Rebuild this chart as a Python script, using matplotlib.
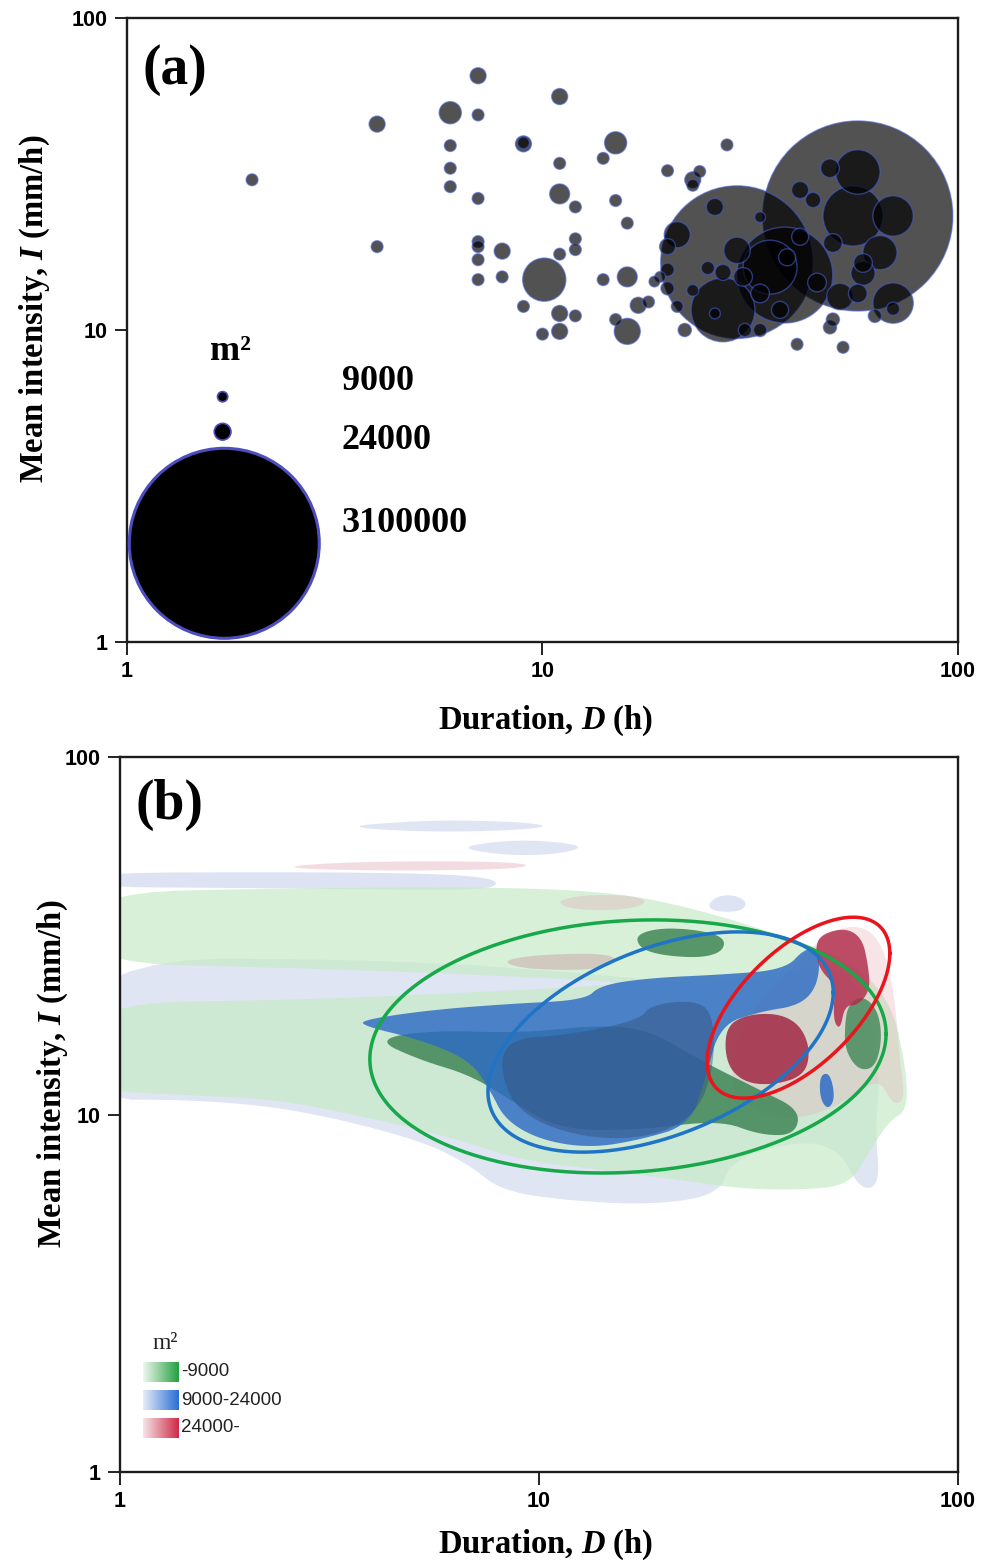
import numpy as np
import matplotlib
matplotlib.use("Agg")
import matplotlib.pyplot as plt
from matplotlib.ticker import NullLocator
from matplotlib.colors import LinearSegmentedColormap

plt.rcParams["mathtext.fontset"] = "custom"
plt.rcParams["mathtext.rm"] = "Liberation Serif:bold"
plt.rcParams["mathtext.it"] = "Liberation Serif:italic:bold"
plt.rcParams["mathtext.bf"] = "Liberation Serif:bold"

# ---------------- (a) rainfall events: duration, mean intensity, area ----------------
duration_h = [2.0, 4.0, 4.0, 6.0, 7.0, 7.0, 6.0, 6.0, 6.0, 7.0,
              7.0, 7.0, 7.0, 7.0, 8.0, 8.0, 9.0, 9.0, 11.0, 11.0,
              11.0, 12.0, 14.0, 15.0, 15.0, 16.0, 12.0, 12.0, 11.0, 10.1,
              9.0, 11.0, 12.0, 10.0, 11.0, 14.0, 16.0, 15.0, 16.0, 17.0,
              18.0, 27.8, 20.0, 23.9, 23.0, 23.0, 41.0, 52.9, 57.4, 29.4,
              38.3, 27.2, 55.9, 57.4, 69.8, 49.2, 41.7, 44.8, 64.9, 59.1,
              69.8, 69.8, 63.1, 57.4, 52.0, 49.2, 50.0, 26.0, 21.1, 20.0,
              20.0, 20.0, 21.1, 22.0, 23.0, 25.0, 26.0, 27.2, 29.4, 33.4,
              35.3, 30.4, 33.4, 38.8, 37.3, 41.7, 50.0, 59.1, 45.8, 19.2,
              18.6, 30.7, 33.4]
intensity_mmh = [30.3, 45.7, 18.5, 49.7, 65.3, 48.9, 39.0, 33.0, 28.8, 26.4,
                 19.2, 18.5, 16.8, 14.5, 17.9, 14.8, 39.5, 39.8, 56.0, 34.2,
                 27.3, 24.8, 35.5, 39.8, 26.0, 22.0, 19.6, 18.1, 17.5, 14.5,
                 11.9, 11.3, 11.1, 9.7, 9.9, 14.5, 14.8, 10.8, 9.9, 12.0,
                 12.3, 39.2, 32.4, 32.2, 30.3, 29.1, 9.0, 8.8, 23.2, 16.5,
                 15.0, 11.6, 23.2, 32.1, 23.2, 33.0, 28.1, 26.1, 17.7, 15.2,
                 12.2, 11.7, 11.1, 13.1, 12.8, 10.2, 10.8, 24.8, 20.2, 18.5,
                 15.6, 13.6, 11.9, 10.0, 13.4, 15.8, 11.3, 15.3, 18.0, 23.0,
                 15.9, 14.8, 13.1, 17.1, 11.6, 19.9, 19.0, 16.4, 14.2, 14.8,
                 14.3, 10.0, 10.0]
area_m2 = [12000, 22000, 12000, 42000, 22000, 12000, 12000, 12000, 12000, 12000,
           12000, 12000, 12000, 12000, 22000, 12000, 22000, 12000, 22000, 12000,
           34000, 12000, 12000, 42000, 12000, 12000, 12000, 12000, 12000, 160000,
           12000, 22000, 12000, 12000, 22000, 12000, 34000, 12000, 58000, 22000,
           12000, 12000, 12000, 12000, 22000, 12000, 12000, 12000, 3100000, 2000000,
           790000, 350000, 310000, 170000, 140000, 30000, 25000, 20000, 100000, 50000,
           140000, 15000, 15000, 30000, 60000, 15000, 15000, 25000, 58000, 22000,
           15000, 15000, 12000, 15000, 12000, 15000, 10000, 22000, 60000, 10000,
           250000, 30000, 30000, 25000, 25000, 25000, 30000, 30000, 30000, 10000,
           10000, 15000, 15000]

size_legend_m2 = [9000, 24000, 3100000]
size_legend_labels = ["9000", "24000", "3100000"]

# ---------------- (b) density regions per area class (D in h, I in mm/h) ----------------
small_low_D = [0.8, 2.69, 8.07, 15.6, 24.2, 37.6, 55.2, 68.8, 74.7, 76.0, 68.8, 61.7, 55.2,
               42.0, 30.2, 21.7, 14.0, 9.0, 6.48, 4.17, 2.41, 1.55, 0.8,
               0.8, 2.69, 7.23, 14.8, 15.6, 7.23, 2.69, 0.8]
small_low_I = [41.7, 43.0, 43.3, 41.7, 37.3, 31.8, 27.1, 20.9, 14.2, 10.3, 9.65, 7.96, 6.35,
               6.15, 6.2, 6.56, 7.0, 7.46, 8.49, 9.65, 11.0, 11.3, 11.7,
               20.5, 20.9, 22.0, 23.0, 23.5, 24.6, 25.7, 26.5]

mid_low_D = [0.8, 4.66, 14.0, 24.2, 39.7, 49.5, 61.7, 65.2, 63.4, 65.2, 58.3, 52.3, 42.0,
             28.6, 27.0, 18.4, 11.2, 8.07, 6.84, 5.2, 2.69, 1.55, 0.8]
mid_low_I = [27.4, 27.1, 24.6, 23.0, 24.6, 27.1, 20.9, 12.5, 9.05, 6.35, 6.15, 7.96, 8.49,
             7.46, 5.96, 5.58, 5.77, 6.15, 7.22, 8.49, 10.3, 11.0, 11.0]
mid_band_D = [0.8, 2.69, 6.13, 8.07, 7.64, 4.66, 2.04, 0.8]
mid_band_I = [47.4, 47.7, 47.1, 45.3, 42.5, 42.5, 43.0, 43.3]
mid_top1_D = [3.54, 4.66, 6.13, 9.01, 10.62, 9.01, 6.13, 4.17]
mid_top1_I = [64.1, 65.8, 66.6, 65.8, 64.1, 62.5, 61.7, 62.5]
mid_top2_D = [6.48, 7.64, 9.52, 12.19, 12.53, 10.62, 8.07]
mid_top2_I = [55.7, 57.8, 58.6, 57.1, 55.3, 53.2, 53.2]
mid_dot_D = [25.2, 26.7, 29.4, 31.5, 30.2, 26.3]
mid_dot_I = [38.5, 40.9, 41.1, 39.1, 36.9, 36.9]

large_low_D = [33.7, 42.0, 49.5, 60.0, 67.0, 70.7, 72.7, 74.7, 70.0, 65.2, 58.3, 49.5,
               39.7, 31.9, 28.6, 29.4]
large_low_I = [20.9, 27.1, 32.8, 33.9, 28.8, 20.9, 14.2, 11.0, 10.6, 12.5, 11.7, 10.3,
               9.65, 10.3, 11.7, 16.2]
large_band_D = [2.55, 3.54, 6.13, 9.52, 9.01, 4.66, 2.69]
large_band_I = [49.6, 50.8, 51.2, 50.5, 48.6, 48.0, 48.6]
large_top_D = [10.9, 12.53, 16.49, 18.41, 16.05, 12.19]
large_top_I = [39.3, 41.1, 41.1, 39.3, 37.3, 37.3]
large_mid_D = [8.07, 9.52, 13.98, 15.61, 13.98, 9.52]
large_mid_I = [26.7, 27.9, 28.3, 27.1, 25.4, 25.4]

small_core_D = [4.06, 5.49, 9.01, 14.0, 18.4, 24.2, 33.7, 42.0, 40.8, 33.7, 27.0, 17.4,
                11.2, 8.53, 6.84, 5.2]
small_core_I = [16.2, 17.2, 16.9, 17.8, 17.2, 14.2, 11.7, 10.3, 8.76, 8.76, 9.65, 9.05,
                9.05, 11.0, 12.9, 14.2]
small_top_D = [17.0, 19.5, 24.2, 27.8, 27.4, 24.2, 19.5, 17.4]
small_top_I = [31.8, 33.3, 32.8, 31.2, 28.5, 27.4, 27.9, 29.2]
small_right_D = [54.6, 59.0, 64.4, 65.9, 63.4, 57.7, 53.7, 53.7]
small_right_I = [20.2, 21.6, 19.6, 16.2, 13.5, 13.3, 15.2, 17.8]

mid_core_D = [3.80, 5.49, 8.53, 12.88, 14.0, 18.4, 27.0, 38.65, 43.1, 46.8, 46.3, 42.0,
              33.7, 27.0, 24.9, 22.9, 17.4, 13.2, 10.06, 8.3, 7.64, 6.84, 5.2, 3.80]
mid_core_I = [18.4, 19.6, 20.4, 20.9, 23.0, 24.1, 24.6, 25.4, 29.2, 28.8, 23.0, 20.2,
              19.4, 17.8, 12.5, 9.35, 8.49, 8.06, 8.49, 9.65, 11.7, 14.2, 16.2, 17.7]
mid_peak_D = [8.07, 11.86, 17.4, 18.4, 22.9, 25.9, 26.3, 24.2, 19.45, 14.0, 10.06, 8.3]
mid_peak_I = [16.2, 16.7, 18.4, 20.2, 20.9, 19.6, 14.2, 10.3, 8.76, 8.49, 9.35, 11.3]
mid_sliver_D = [46.8, 49.5, 50.9, 48.9, 46.8]
mid_sliver_I = [12.9, 13.07, 11.1, 10.3, 11.1]

large_core1_D = [46.8, 53.7, 59.0, 61.0, 61.7, 57.7, 53.7, 52.3, 50.3, 50.9, 46.8, 45.6]
large_core1_I = [31.8, 33.3, 31.2, 26.2, 22.3, 20.2, 20.2, 17.2, 18.4, 23.0, 25.4, 28.8]
large_core2_D = [27.8, 31.0, 37.2, 42.0, 44.4, 43.1, 36.6, 31.0, 27.95]
large_core2_I = [17.46, 19.0, 19.2, 17.8, 15.2, 12.9, 12.1, 12.25, 13.8]

# Spread ellipses in log space: centre D, centre I, sd(log D), sd(log I), correlation
ellipse_small = (16.3, 15.5, 0.616, 0.354, 0.10)
ellipse_mid = (19.5, 15.95, 0.412, 0.308, 0.45)
ellipse_large = (41.6, 19.9, 0.218, 0.253, 0.60)

class_labels = ["-9000", "9000-24000", "24000-"]

# ---------------- styling ----------------
SERIF = "Liberation Serif"
SANS = "Liberation Sans"
REF_AREA = 3100000.0
REF_RADIUS_PX = 95.0
DPI = 100


def bubble_size(a):
    r_px = REF_RADIUS_PX * np.sqrt(np.asarray(a, dtype=float) / REF_AREA)
    return (2 * r_px * 72.0 / DPI) ** 2


def style_axes(ax):
    ax.set_xscale("log")
    ax.set_yscale("log")
    ax.set_xlim(1, 100)
    ax.set_ylim(1, 100)
    ax.set_xticks([1, 10, 100])
    ax.set_yticks([1, 10, 100])
    ax.set_xticklabels(["1", "10", "100"])
    ax.set_yticklabels(["1", "10", "100"])
    ax.xaxis.set_minor_locator(NullLocator())
    ax.yaxis.set_minor_locator(NullLocator())
    ax.tick_params(direction="out", length=9, width=1.4, labelsize=15.5, pad=5,
                   color="#222222")
    for lbl in ax.get_xticklabels() + ax.get_yticklabels():
        lbl.set_fontfamily(SANS)
        lbl.set_fontweight("bold")
    for sp in ax.spines.values():
        sp.set_linewidth(1.7)
        sp.set_color("#1c1c1c")
    ax.set_xlabel("Duration, $D$ (h)", fontfamily=SERIF, fontweight="bold", fontsize=23.5)
    ax.set_ylabel("Mean intensity, $I$ (mm/h)", fontfamily=SERIF, fontweight="bold",
                  fontsize=23.5)


def smooth_closed(d, i, n=3):
    p = np.column_stack([np.log10(d), np.log10(i)])
    for _ in range(n):
        nxt = np.roll(p, -1, axis=0)
        q = 0.75 * p + 0.25 * nxt
        r = 0.25 * p + 0.75 * nxt
        p2 = np.empty((2 * len(p), 2))
        p2[0::2] = q
        p2[1::2] = r
        p = p2
    return 10 ** p[:, 0], 10 ** p[:, 1]


def blob(ax, d, i, color, alpha, z):
    xs, ys = smooth_closed(d, i)
    ax.fill(xs, ys, color=color, alpha=alpha, lw=0, zorder=z)


def spread_ellipse(ax, params, color):
    d0, i0, sx, sy, rho = params
    t = np.linspace(0, 2 * np.pi, 400)
    lx = np.log10(d0) + sx * np.cos(t)
    ly = np.log10(i0) + sy * (rho * np.cos(t) + np.sqrt(1 - rho ** 2) * np.sin(t))
    ax.plot(10 ** lx, 10 ** ly, color=color, lw=2.5, zorder=10)


fig = plt.figure(figsize=(9.88, 15.64), dpi=DPI)

# ================= panel (a) =================
ax_a = fig.add_axes([0.1285, 0.5895, 0.8411, 0.3990])
order = np.argsort(area_m2)[::-1]
ax_a.scatter(np.array(duration_h)[order], np.array(intensity_mmh)[order],
             s=bubble_size(np.array(area_m2)[order]),
             facecolor=(0.0, 0.0, 0.0, 0.68), edgecolor=(0.27, 0.36, 0.80, 0.60),
             linewidth=1.0, zorder=3)
style_axes(ax_a)
ax_a.xaxis.set_label_coords(0.504, -0.099)
ax_a.yaxis.set_label_coords(-0.090, 0.534)

ax_a.text(0.019, 0.917, "(a)", transform=ax_a.transAxes, fontsize=40,
          fontweight="bold", fontfamily=SERIF, ha="left", va="center")

leg_x = [0.1151, 0.1151, 0.1171]
leg_y = [0.3931, 0.337, 0.1582]
ax_a.scatter(leg_x, leg_y, s=bubble_size(size_legend_m2), transform=ax_a.transAxes,
             facecolor="black", edgecolor=(0.30, 0.30, 0.75), linewidth=[1.2, 1.2, 2.2],
             zorder=4, clip_on=False)
ax_a.text(0.100, 0.465, "m²", transform=ax_a.transAxes, fontsize=26,
          fontweight="bold", fontfamily=SERIF, ha="left", va="center")
for lab, yy in zip(size_legend_labels, [0.4167, 0.3237, 0.1907]):
    ax_a.text(0.2587, yy, lab, transform=ax_a.transAxes, fontsize=26,
              fontweight="bold", fontfamily=SERIF, ha="left", va="center")

# ================= panel (b) =================
ax_b = fig.add_axes([0.1215, 0.0588, 0.8482, 0.4572])

light_green = "#c6eac6"
light_blue = "#ccd5ec"
light_red = "#e6b3bd"
blob(ax_b, mid_low_D, mid_low_I, light_blue, 0.62, 1)
blob(ax_b, mid_band_D, mid_band_I, light_blue, 0.65, 1)
blob(ax_b, mid_top1_D, mid_top1_I, light_blue, 0.60, 1)
blob(ax_b, mid_top2_D, mid_top2_I, light_blue, 0.60, 1)
blob(ax_b, mid_dot_D, mid_dot_I, light_blue, 0.65, 1)
blob(ax_b, small_low_D, small_low_I, light_green, 0.70, 2)
blob(ax_b, large_band_D, large_band_I, light_red, 0.45, 3)
blob(ax_b, large_top_D, large_top_I, light_red, 0.40, 3)
blob(ax_b, large_mid_D, large_mid_I, "#c9a9ad", 0.55, 3)
blob(ax_b, large_low_D, large_low_I, light_red, 0.35, 3)

blob(ax_b, small_core_D, small_core_I, "#3f8656", 0.85, 4)
blob(ax_b, small_top_D, small_top_I, "#3f8656", 0.85, 4)
blob(ax_b, small_right_D, small_right_I, "#3f8656", 0.80, 4)
blob(ax_b, mid_core_D, mid_core_I, "#2e6bc4", 0.82, 5)
blob(ax_b, mid_peak_D, mid_peak_I, "#34507a", 0.45, 6)
blob(ax_b, mid_sliver_D, mid_sliver_I, "#2e6bc4", 0.85, 5)
blob(ax_b, large_core1_D, large_core1_I, "#b02a4a", 0.82, 7)
blob(ax_b, large_core2_D, large_core2_I, "#a0203f", 0.82, 7)

spread_ellipse(ax_b, ellipse_small, "#17a84a")
spread_ellipse(ax_b, ellipse_mid, "#1f74c6")
spread_ellipse(ax_b, ellipse_large, "#ea141c")

style_axes(ax_b)
ax_b.xaxis.set_label_coords(0.508, -0.077)
ax_b.yaxis.set_label_coords(-0.060, 0.557)
ax_b.text(0.018, 0.933, "(b)", transform=ax_b.transAxes, fontsize=40,
          fontweight="bold", fontfamily=SERIF, ha="left", va="center")

# class legend with gradient swatches
ax_b.text(0.039, 0.180, "m²", transform=ax_b.transAxes, fontsize=17,
          fontfamily=SERIF, ha="left", va="center", color="#222222")
swatch_colors = [("#eef7ef", "#24a040"), ("#e6ecf6", "#2a6fd6"), ("#f6e4e8", "#cf2a48")]
swatch_y = [0.1259, 0.0867, 0.0476]
grad = np.linspace(0, 1, 64).reshape(1, -1)
for (c0, c1), y0, lab in zip(swatch_colors, swatch_y, class_labels):
    sw = ax_b.inset_axes([0.0274, y0, 0.0418, 0.028])
    sw.imshow(grad, aspect="auto", cmap=LinearSegmentedColormap.from_list("g", [c0, c1]))
    sw.set_axis_off()
    ax_b.text(0.0728, y0 + 0.014, lab, transform=ax_b.transAxes, fontsize=13.5,
              fontfamily=SANS, ha="left", va="center", color="#222222")

fig.savefig("out.png", dpi=DPI)
